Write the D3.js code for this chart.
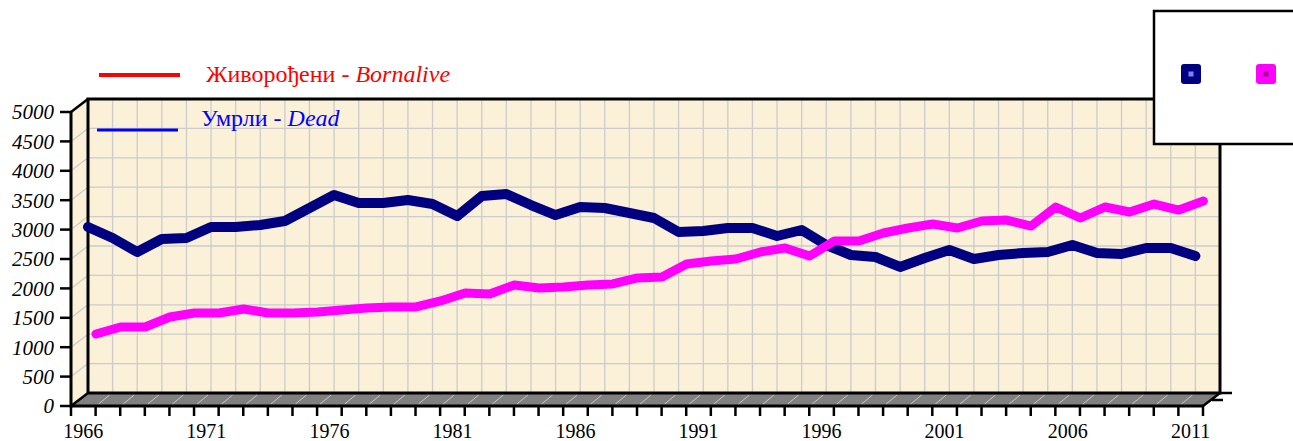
<!DOCTYPE html>
<html>
<head>
<meta charset="utf-8">
<script src="https://cdn.jsdelivr.net/npm/d3@7"></script>
<style>
  body { margin: 0; background: #fff; }
  svg { display: block; font-family: "Liberation Serif", "Times New Roman", serif; }
</style>
</head>
<body>
<svg id="chart" width="1293" height="441"></svg>
<script>
var years = d3.range(1966, 2012);
var yTicks = [0, 500, 1000, 1500, 2000, 2500, 3000, 3500, 4000, 4500, 5000];
var xLabelYears = [1966, 1971, 1976, 1981, 1986, 1991, 1996, 2001, 2006, 2011];

// Умрли - Dead
var dead = [2823, 2636, 2398, 2619, 2636, 2823, 2823, 2857, 2925, 3146,
            3367, 3231, 3231, 3282, 3214, 3010, 3350, 3384, 3197, 3027,
            3163, 3146, 3061, 2976, 2738, 2755, 2806, 2806, 2670, 2772,
            2517, 2347, 2313, 2143, 2296, 2432, 2279, 2347, 2381, 2398,
            2517, 2381, 2364, 2466, 2466, 2330];
// Живорођени - Bornalive
var born = [1003, 1122, 1122, 1293, 1361, 1361, 1429, 1361, 1361, 1378,
            1412, 1446, 1463, 1463, 1565, 1701, 1684, 1837, 1786, 1803,
            1837, 1854, 1956, 1973, 2194, 2245, 2279, 2398, 2466, 2330,
            2585, 2585, 2721, 2806, 2874, 2806, 2925, 2942, 2840, 3163,
            2976, 3163, 3078, 3214, 3112, 3265];

var margin = {left: 71, right: 90, top: 112, bottom: 35},
    width = 1293 - margin.left - margin.right,   // front axis length
    height = 441 - margin.top - margin.bottom,
    depthX = 17, depthY = -13,
    wallColor = "#fbf0d8",
    gridColor = "#cccccc",
    floorColor = "#808080",
    deadColor = "#000080",
    bornColor = "#ff00ff";

var svg = d3.select("#chart");

var x = d3.scaleBand().domain(years).range([margin.left, margin.left + width]);
var y = d3.scaleLinear().domain([0, 5000]).range([margin.top + height, margin.top]);

var x0 = margin.left, x1 = margin.left + width;
var yb = y(0), yt = y(5000);

// back wall
svg.append("rect")
   .attr("x", x0 + depthX).attr("y", yt + depthY)
   .attr("width", width).attr("height", height)
   .attr("fill", wallColor);

// side wall
svg.append("path")
   .attr("d", "M" + x0 + "," + yt + "L" + (x0 + depthX) + "," + (yt + depthY) +
              "L" + (x0 + depthX) + "," + (yb + depthY) + "L" + x0 + "," + yb + "Z")
   .attr("fill", wallColor);

// horizontal grid on back wall + side wall
yTicks.forEach(function(t) {
  if (t == 0 || t == 5000) return;
  svg.append("line")
     .attr("x1", x0 + depthX).attr("x2", x1 + depthX)
     .attr("y1", y(t) + depthY).attr("y2", y(t) + depthY)
     .attr("stroke", gridColor).attr("stroke-width", 1.3);
  svg.append("line")
     .attr("x1", x0).attr("x2", x0 + depthX)
     .attr("y1", y(t)).attr("y2", y(t) + depthY)
     .attr("stroke", gridColor).attr("stroke-width", 1.3);
});

// vertical grid on back wall
years.slice(1).forEach(function(yr) {
  svg.append("line")
     .attr("x1", x(yr) + depthX).attr("x2", x(yr) + depthX)
     .attr("y1", yt + depthY).attr("y2", yb + depthY)
     .attr("stroke", gridColor).attr("stroke-width", 1.3);
});

// floor
svg.append("path")
   .attr("d", "M" + x0 + "," + yb + "L" + (x0 + depthX) + "," + (yb + depthY) +
              "L" + (x1 + depthX) + "," + (yb + depthY) + "L" + x1 + "," + yb + "Z")
   .attr("fill", floorColor);

years.slice(1).forEach(function(yr) {
  svg.append("line")
     .attr("x1", x(yr) + 3).attr("x2", x(yr) + depthX - 3)
     .attr("y1", yb - 2).attr("y2", yb + depthY + 2)
     .attr("stroke", "#c8c8c8").attr("stroke-width", 1);
});

// wall outlines
svg.append("path")
   .attr("d", "M" + (x0 + depthX) + "," + (yb + depthY) + "L" + (x0 + depthX) + "," + (yt + depthY) +
              "L" + (x1 + depthX) + "," + (yt + depthY) + "L" + (x1 + depthX) + "," + (yb + depthY) +
              "L" + (x0 + depthX) + "," + (yb + depthY))
   .attr("fill", "none").attr("stroke", "#000").attr("stroke-width", 3);

svg.append("path")
   .attr("d", "M" + x0 + "," + yt + "L" + (x0 + depthX) + "," + (yt + depthY) +
              "M" + x0 + "," + yb + "L" + (x0 + depthX) + "," + (yb + depthY) +
              "M" + x1 + "," + yb + "L" + (x1 + depthX) + "," + (yb + depthY) +
              "M" + (x1 + depthX) + "," + (yb + depthY) + "L" + (x1 + depthX + 12) + "," + (yb + depthY) +
              "M" + (x1 + 9) + "," + (yb - 6) + "L" + (x1 + 20) + "," + (yb - 6))
   .attr("fill", "none").attr("stroke", "#000").attr("stroke-width", 2.5);

// series lines
var lineDead = d3.line()
    .x(function(d, i) { return x(years[i]) + depthX; })
    .y(function(d) { return y(d) + depthY; });

var lineBorn = d3.line()
    .x(function(d, i) { return x(years[i]) + depthX + 8; })
    .y(function(d) { return y(d) + depthY; });

svg.append("path")
   .datum(dead)
   .attr("d", lineDead)
   .attr("fill", "none").attr("stroke", deadColor)
   .attr("stroke-width", 10).attr("stroke-linejoin", "round").attr("stroke-linecap", "round");

svg.append("path")
   .datum(born)
   .attr("d", lineBorn)
   .attr("fill", "none").attr("stroke", bornColor)
   .attr("stroke-width", 9).attr("stroke-linejoin", "round").attr("stroke-linecap", "round");

// front y axis
var yAxis = svg.append("g");
yAxis.append("line")
     .attr("x1", x0).attr("x2", x0).attr("y1", yt).attr("y2", yb + 1.5)
     .attr("stroke", "#000").attr("stroke-width", 3);
yAxis.selectAll(".yt").data(yTicks).enter().append("line")
     .attr("x1", x0 - 11).attr("x2", x0)
     .attr("y1", function(d) { return y(d); }).attr("y2", function(d) { return y(d); })
     .attr("stroke", "#000").attr("stroke-width", 2.5);
yAxis.selectAll(".yl").data(yTicks).enter().append("text")
     .attr("x", 54).attr("y", function(d) { return y(d); })
     .attr("dy", "0.35em")
     .attr("text-anchor", "end")
     .attr("font-style", "italic")
     .attr("font-size", 21)
     .text(function(d) { return d; });

// front x axis
var xAxis = svg.append("g");
xAxis.append("line")
     .attr("x1", x0).attr("x2", x1).attr("y1", yb).attr("y2", yb)
     .attr("stroke", "#000").attr("stroke-width", 3);
xAxis.selectAll(".xt").data(years.concat([2012])).enter().append("line")
     .attr("x1", function(d) { return d == 2012 ? x1 : x(d); })
     .attr("x2", function(d) { return d == 2012 ? x1 : x(d); })
     .attr("y1", yb).attr("y2", yb + 10)
     .attr("stroke", "#000").attr("stroke-width", 2.5);
xAxis.selectAll(".xl").data(xLabelYears).enter().append("text")
     .attr("x", function(d) { return x(d) + x.bandwidth() / 2; })
     .attr("y", 438)
     .attr("text-anchor", "middle")
     .attr("font-size", 20)
     .text(function(d) { return d; });

// legend on the left
var legend = svg.append("g");
legend.append("line")
      .attr("x1", 99).attr("x2", 180).attr("y1", 75).attr("y2", 75)
      .attr("stroke", "#ff0000").attr("stroke-width", 4);
var t1 = legend.append("text").attr("x", 206).attr("y", 82)
      .attr("font-size", 24).attr("fill", "#ff0000");
t1.append("tspan").text("Живорођени - ");
t1.append("tspan").attr("font-style", "italic").text("Bornalive");

legend.append("line")
      .attr("x1", 97).attr("x2", 178).attr("y1", 130).attr("y2", 130)
      .attr("stroke", "#0000ff").attr("stroke-width", 3);
var t2 = legend.append("text").attr("x", 201).attr("y", 126)
      .attr("font-size", 24).attr("fill", "#0000ff");
t2.append("tspan").text("Умрли - ");
t2.append("tspan").attr("font-style", "italic").text("Dead");

// legend box on the right
var box = svg.append("g");
box.append("rect")
   .attr("x", 1154).attr("y", 11).attr("width", 150).attr("height", 133)
   .attr("fill", "#fff").attr("stroke", "#000").attr("stroke-width", 2.5);
[[deadColor, "#8080ff", 1191], [bornColor, "#a0108f", 1266]].forEach(function(m) {
  box.append("rect")
     .attr("x", m[2] - 10).attr("y", 64).attr("width", 20).attr("height", 20)
     .attr("rx", 3).attr("fill", m[0]);
  box.append("rect")
     .attr("x", m[2] - 2.5).attr("y", 71.5).attr("width", 5).attr("height", 5)
     .attr("fill", m[1]);
});
</script>
</body>
</html>
